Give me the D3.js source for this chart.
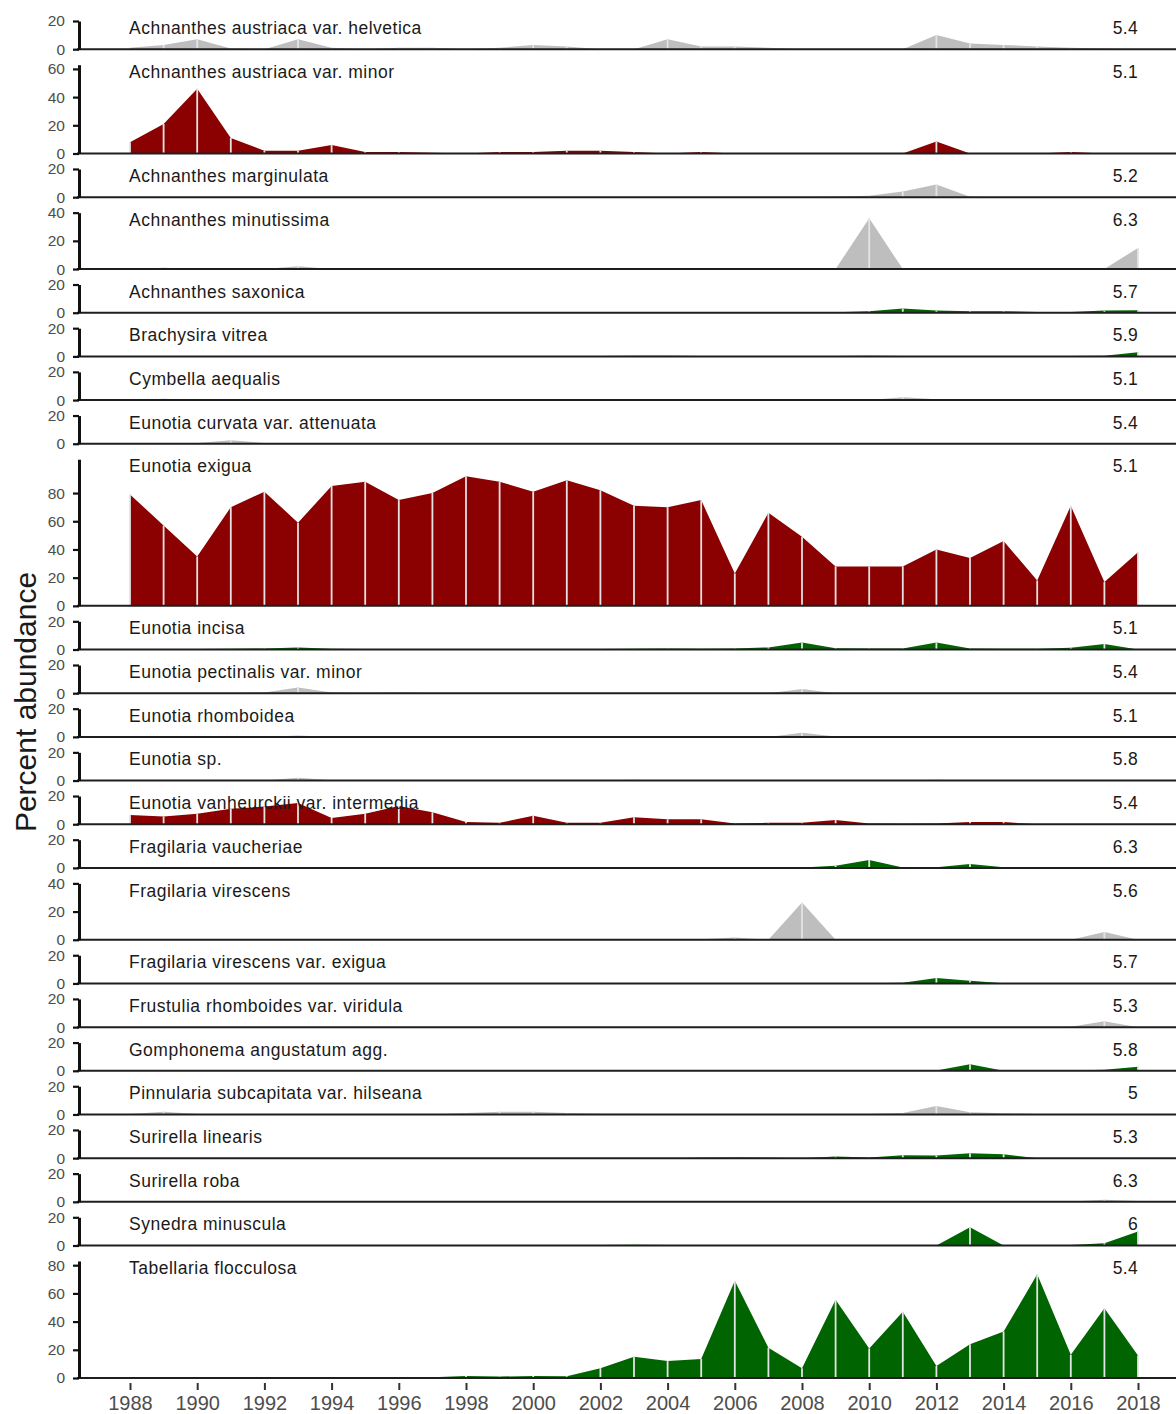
<!DOCTYPE html>
<html>
<head>
<meta charset="utf-8">
<script src="https://cdn.jsdelivr.net/npm/d3@7"></script>
<style>
  body { margin: 0; background: #fff; }
  svg { display: block; }
  text { font-family: "Liberation Sans", Arial, sans-serif; }
</style>
</head>
<body>
<svg id="chart" width="1176" height="1414"></svg>
<script>
// Sampling years (x axis)
const years = [1988, 1989, 1990, 1991, 1992, 1993, 1994, 1995, 1996, 1997,
               1998, 1999, 2000, 2001, 2002, 2003, 2004, 2005, 2006, 2007,
               2008, 2009, 2010, 2011, 2012, 2013, 2014, 2015, 2016, 2017, 2018];
const yearTicks = [1988, 1990, 1992, 1994, 1996, 1998, 2000, 2002, 2004, 2006,
                   2008, 2010, 2012, 2014, 2016, 2018];

// Taxa, top to bottom
const taxa = [
  "Achnanthes austriaca var. helvetica", "Achnanthes austriaca var. minor",
  "Achnanthes marginulata", "Achnanthes minutissima", "Achnanthes saxonica",
  "Brachysira vitrea", "Cymbella aequalis", "Eunotia curvata var. attenuata",
  "Eunotia exigua", "Eunotia incisa", "Eunotia pectinalis var. minor",
  "Eunotia rhomboidea", "Eunotia sp.", "Eunotia vanheurckii var. intermedia",
  "Fragilaria vaucheriae", "Fragilaria virescens", "Fragilaria virescens var. exigua",
  "Frustulia rhomboides var. viridula", "Gomphonema angustatum agg.",
  "Pinnularia subcapitata var. hilseana", "Surirella linearis", "Surirella roba",
  "Synedra minuscula", "Tabellaria flocculosa"
];

// Colour group of each taxon: 0 = grey, 1 = red, 2 = green
const taxonGroup = [0, 1, 0, 0, 2, 2, 0, 0, 1, 2, 0, 0, 0, 1, 2, 0, 2, 0, 2, 0, 2, 0, 2, 2];

// Value printed at the right of each panel
const optimum = ["5.4", "5.1", "5.2", "6.3", "5.7", "5.9", "5.1", "5.4", "5.1", "5.1", "5.4", "5.1",
                 "5.8", "5.4", "6.3", "5.6", "5.7", "5.3", "5.8", "5", "5.3", "6.3", "6", "5.4"];

// Upper limit of each panel's y axis, and its labelled ticks
const axisMax = [20, 63, 20, 40, 20, 20, 20, 20, 104, 20, 20, 20, 20, 20, 20, 40, 20, 20, 20, 20, 20, 20, 20, 83];
const ticks20 = [0, 20];
const ticks40 = [0, 20, 40];
const ticks60 = [0, 20, 40, 60];
const ticks80 = [0, 20, 40, 60, 80];
const axisTicks = [ticks20, ticks60, ticks20, ticks40, ticks20, ticks20, ticks20, ticks20, ticks80,
                   ticks20, ticks20, ticks20, ticks20, ticks20, ticks20, ticks40, ticks20, ticks20,
                   ticks20, ticks20, ticks20, ticks20, ticks20, ticks80];

// Percent abundance per year (1988-2018)
const achAustHelvetica = [1, 3, 7, 0.5, 0, 7, 1, 0, 1, 1, 0, 1, 3, 2, 0, 0, 7, 2, 2, 1, 0, 0, 0, 0, 10, 4, 3, 2, 1, 0.5, 0];
const achAustMinor     = [8, 21, 46, 11, 2, 2, 6, 1, 1, 0.5, 0, 1, 1, 2, 2, 1, 0, 1, 0, 0, 0, 0, 0, 0, 8.5, 0, 0, 0, 1, 0, 0];
const achMarginulata   = [0, 0, 0, 0, 0, 0, 0, 0, 0, 0, 0, 0, 0, 0, 0, 0, 0, 0, 0, 0, 0, 0.3, 1, 4, 9, 0.3, 0, 0, 0, 0, 0];
const achMinutissima   = [0, 1, 0, 0, 0, 2, 0, 0, 0, 0, 0, 0.5, 0, 0, 0, 0, 0, 0, 0, 0, 0, 0, 36, 0, 0, 0, 0, 0, 0, 0, 15];
const achSaxonica      = [0, 0, 0, 0, 0, 0, 0, 0, 0, 0, 0, 0, 0, 0, 0, 0, 0, 0, 0, 0, 0, 0.3, 1, 3, 1.5, 1, 1, 0.5, 0.5, 1.5, 1.8];
const braVitrea        = [0, 0, 0, 0, 0, 0, 0, 0, 0, 0, 0, 0, 0, 0.2, 0.3, 0.5, 0.5, 0.2, 0.2, 0.2, 0.2, 0.3, 0.5, 0.2, 0.2, 0.2, 0.2, 0.2, 0.2, 0.5, 3];
const cymAequalis      = [0, 1, 0, 0, 0, 0, 0, 0, 0, 0, 0, 0, 0, 0, 0, 0, 0, 0, 0, 0, 0, 0, 0, 2, 0.5, 0, 0, 0, 0, 0, 0];
const eunCurvata       = [0, 0, 0.5, 2.5, 0.5, 0, 0, 0, 0, 0, 0, 0, 0, 0, 0, 0, 0, 0, 0, 0, 0, 0, 0, 0, 0, 0, 0, 0, 0, 0, 0];
const eunExigua        = [79, 57, 35, 70, 81, 59, 85, 88, 75, 80, 92, 88, 81, 89, 82, 71, 70, 75, 23, 66, 49, 28, 28, 28, 40, 34, 46, 18, 71, 17, 38];
const eunIncisa        = [0, 0, 0.3, 0.5, 0.8, 1.5, 0.5, 0.3, 0.3, 0.3, 0.2, 0.2, 0.3, 0.3, 0.3, 0.5, 0.8, 0.5, 0.8, 1.5, 5, 1, 0.8, 0.8, 5, 0.8, 0.6, 0.6, 1.2, 4, 0];
const eunPectinalis    = [0, 0, 0, 0, 0.5, 4, 0.5, 0, 0.5, 0, 0, 0, 0, 0, 0, 0, 0, 0, 0, 0, 3, 0, 0, 0, 0, 0, 0, 0, 0, 0, 0];
const eunRhomboidea    = [0, 0, 0.5, 0, 0, 1, 0, 0, 0.3, 0, 0, 0, 0, 0, 0, 0, 0, 0, 0, 0, 3, 0.3, 0, 0, 0, 0, 0, 0, 0, 0, 0];
const eunSp            = [0, 0, 0, 0, 0, 2, 0.3, 0, 0, 0, 0, 0, 0, 0, 0, 0.5, 0, 0, 0, 0, 0, 0, 0, 0, 0.5, 0, 0, 0, 0, 0, 0];
const eunVanheurckii   = [6.5, 5.5, 7.5, 11, 12.5, 15, 4.5, 7.5, 13, 8.5, 1.5, 1, 6, 1, 1, 5, 3.5, 3.5, 0.5, 1, 1, 3, 0.5, 0.3, 0.5, 1.5, 1.5, 0, 0, 0, 0];
const fraVaucheriae    = [0, 0, 0, 0, 0, 0, 0, 0, 0, 0, 0, 0, 0, 0, 0, 0, 0.5, 0, 0, 0, 0.3, 1.6, 5.6, 0.3, 0.5, 2.8, 0.5, 0, 0, 0, 0];
const fraVirescens     = [0, 0, 0, 0, 0, 0, 0, 0, 0, 0, 0, 0, 0, 0, 0, 0, 0, 0.3, 1.6, 0, 26.5, 0, 0, 0, 0, 0, 0, 0, 0, 5.6, 0];
const fraVirescensEx   = [0, 0, 0, 0, 0, 0, 0, 0, 0, 0, 0, 0, 0, 0, 0, 0, 0, 0, 0, 0, 0, 0, 0.2, 0.5, 3.8, 1.9, 0.2, 0, 0, 0.4, 0.4];
const fruRhomboides    = [0, 0, 0, 0, 0, 0, 0, 0, 0, 0, 0, 0, 0, 0, 0, 0, 0, 0, 0, 0, 0, 0, 0, 0, 0, 0, 0, 0, 0.3, 4.2, 0];
const gomAngustatum    = [0, 0, 0, 0, 0, 0, 0, 0, 0, 0, 0, 0, 0, 0, 0, 0, 0, 0, 0, 0, 0.2, 0.3, 0.3, 0.3, 0.2, 4.7, 0, 0, 0.2, 0.8, 2.8];
const pinSubcapitata   = [0.3, 2, 0.3, 0, 0, 0, 0, 0, 0, 0, 1, 2, 2, 1, 0.5, 0.5, 0, 0, 0, 0, 0, 0, 0.3, 1, 6, 1.5, 0.8, 0.3, 0, 0, 0];
const surLinearis      = [0, 0, 0, 0, 0, 0, 0, 0, 0, 0, 0, 0, 0, 0, 0, 0, 0, 0.2, 0.4, 0.2, 0, 1.2, 0.5, 2.1, 1.9, 3.5, 2.8, 0, 0, 0, 0];
const surRoba          = [0, 0, 0, 0, 0, 0, 0, 0, 0, 0, 0, 0, 0, 0, 0, 0, 0, 0, 0, 0, 0, 0, 0, 0, 0, 0, 0, 0, 0.2, 1.4, 0.5];
const synMinuscula     = [0, 0, 0, 0, 0, 0.3, 0, 0, 0, 0, 0, 0, 0, 0, 0.3, 0.5, 0.3, 0, 0, 0, 0, 0, 0, 0, 0, 13, 0, 0, 0.3, 1.6, 10];
const tabFlocculosa    = [0, 0, 0, 0, 0, 0, 0, 0, 0.3, 0.5, 1.5, 1, 1.5, 1.2, 7, 15, 12, 13.5, 69, 21.5, 7, 55.5, 21, 47, 8.5, 24, 33, 73.5, 16.5, 49.5, 16];

const series = [achAustHelvetica, achAustMinor, achMarginulata, achMinutissima, achSaxonica,
                braVitrea, cymAequalis, eunCurvata, eunExigua, eunIncisa, eunPectinalis,
                eunRhomboidea, eunSp, eunVanheurckii, fraVaucheriae, fraVirescens, fraVirescensEx,
                fruRhomboides, gomAngustatum, pinSubcapitata, surLinearis, surRoba, synMinuscula,
                tabFlocculosa];

const groupFill = d3.scaleOrdinal().domain([0, 1, 2]).range(["#bebebe", "#8b0000", "#006400"]);

// ---- layout ----
const W = 1176;
const axisX = 79;
const firstTop = 21;
const lastBase = 1378;
const totalUnits = d3.sum(axisMax);
const pxPerUnit = 1.41;
const gap = (lastBase - firstTop - totalUnits * pxPerUnit) / (taxa.length - 1);

const x = d3.scaleLinear().domain([years[0], years[years.length - 1]]).range([130, 1138]);

const svg = d3.select("#chart");

let cursor = firstTop;
taxa.forEach((name, i) => {
  const top = cursor;
  const base = top + axisMax[i] * pxPerUnit;
  cursor = base + gap;

  const y = d3.scaleLinear().domain([0, axisMax[i]]).range([base, top]);
  const vals = series[i];
  const g = svg.append("g").attr("class", "panel");

  // filled profile
  const area = d3.area()
    .x((d, j) => x(years[j]))
    .y0(base)
    .y1(d => y(d));
  g.append("path")
    .datum(vals)
    .attr("d", area)
    .attr("fill", groupFill(taxonGroup[i]));

  // drop lines at each sample
  g.selectAll("line.drop")
    .data(vals.map((v, j) => ({ v, yr: years[j] })).filter(d => d.v > 0))
    .join("line")
    .attr("class", "drop")
    .attr("x1", d => x(d.yr)).attr("x2", d => x(d.yr))
    .attr("y1", d => y(d.v)).attr("y2", base)
    .attr("stroke", "#e4e4e4")
    .attr("stroke-width", 1.8);

  // baseline
  g.append("line")
    .attr("x1", axisX - 2).attr("x2", W)
    .attr("y1", base).attr("y2", base)
    .attr("stroke", "#1e1e1e")
    .attr("stroke-width", 2);

  // y axis
  const ax = g.append("g")
    .attr("transform", `translate(${axisX},0)`)
    .call(d3.axisLeft(y).tickValues(axisTicks[i]).tickSize(6).tickSizeOuter(0).tickPadding(8).tickFormat(d3.format("d")));
  ax.select(".domain").attr("stroke", "#111").attr("stroke-width", 3);
  ax.selectAll(".tick line").attr("stroke", "#111").attr("stroke-width", 2.2);
  ax.selectAll(".tick text")
    .attr("fill", "#4d4d4d")
    .style("font-size", "15.5px")
    .style("font-family", "'Liberation Sans', Arial, sans-serif");

  // taxon name and value
  g.append("text")
    .attr("x", 129).attr("y", top + 7).attr("dy", "0.35em")
    .attr("fill", "#1a1a1a")
    .style("font-size", "17.5px")
    .style("letter-spacing", "0.5px")
    .text(name);
  g.append("text")
    .attr("x", 1138).attr("y", top + 7).attr("dy", "0.35em")
    .attr("text-anchor", "end")
    .attr("fill", "#1a1a1a")
    .style("font-size", "17.5px")
    .style("letter-spacing", "0.3px")
    .text(optimum[i]);
});

// x axis
const xa = svg.append("g")
  .attr("transform", `translate(0,${lastBase + 5})`)
  .call(d3.axisBottom(x).tickValues(yearTicks).tickFormat(d3.format("d")).tickSize(7).tickPadding(6));
xa.select(".domain").remove();
xa.selectAll(".tick line").attr("stroke", "#333").attr("stroke-width", 2);
xa.selectAll(".tick text")
  .attr("fill", "#4d4d4d")
  .style("font-size", "20px")
  .style("font-family", "'Liberation Sans', Arial, sans-serif");

// y title
svg.append("text")
  .attr("transform", "translate(36,702) rotate(-90)")
  .attr("text-anchor", "middle")
  .attr("fill", "#1a1a1a")
  .style("font-size", "30px")
  .text("Percent abundance");
</script>
</body>
</html>
